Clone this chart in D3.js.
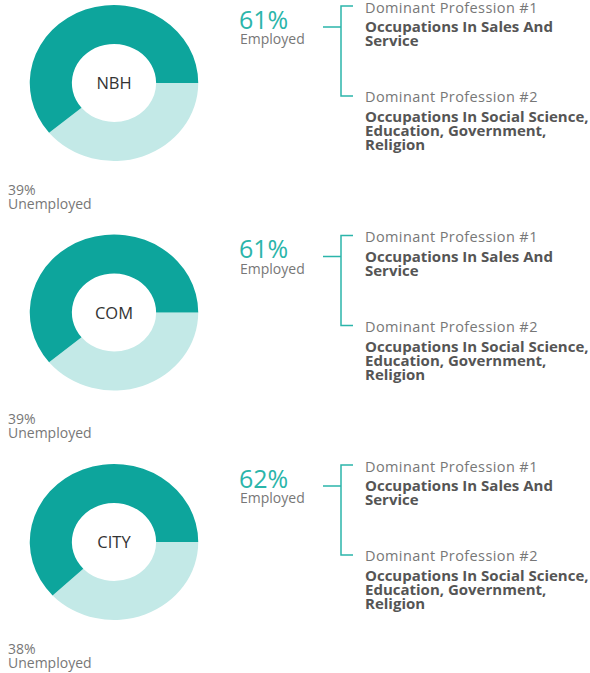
<!DOCTYPE html>
<html>
<head>
<meta charset="utf-8">
<script src="https://cdn.jsdelivr.net/npm/d3@7"></script>
<style>
  body { margin: 0; background: #fff; }
  svg { display: block; font-family: "Open Sans", sans-serif; }
</style>
</head>
<body>
<svg id="chart" width="590" height="673"></svg>
<script>
const areas = ["NBH", "COM", "CITY"];
const employed = [61, 61, 62];
const unemployed = [39, 39, 38];
const profession1 = [
  "Occupations In Sales And Service",
  "Occupations In Sales And Service",
  "Occupations In Sales And Service"
];
const profession2 = [
  "Occupations In Social Science, Education, Government, Religion",
  "Occupations In Social Science, Education, Government, Religion",
  "Occupations In Social Science, Education, Government, Religion"
];

const darkTeal = "#0da59c";
const lightTeal = "#c3e9e7";
const lineTeal = "#2bb5aa";

const svg = d3.select("#chart");
const panelH = 229.5;

const pie = d3
  .pie()
  .sort(null)
  .startAngle(Math.PI / 2)
  .endAngle(Math.PI / 2 + 2 * Math.PI);

const arc = d3.arc().innerRadius(39).outerRadius(78);

function wrap(textSel, words, maxWidth, lineH) {
  let line = [];
  let tspan = textSel.append("tspan").attr("x", textSel.attr("x")).attr("dy", 0);
  words.split(" ").forEach((w) => {
    line.push(w);
    tspan.text(line.join(" "));
    if (tspan.node().getComputedTextLength() > maxWidth && line.length > 1) {
      line.pop();
      tspan.text(line.join(" "));
      line = [w];
      tspan = textSel
        .append("tspan")
        .attr("x", textSel.attr("x"))
        .attr("dy", lineH)
        .text(w);
    }
  });
}

areas.forEach((name, i) => {
  const g = svg.append("g").attr("transform", `translate(0,${i * panelH})`);

  // donut (slightly wider than tall, like the reference)
  const donut = g.append("g").attr("transform", "translate(114,83) scale(1.08,1)");
  donut
    .selectAll("path")
    .data(pie([unemployed[i], employed[i]]))
    .enter()
    .append("path")
    .attr("d", arc)
    .attr("fill", (d, j) => (j === 0 ? lightTeal : darkTeal));

  g.append("text")
    .attr("x", 114)
    .attr("y", 89)
    .attr("text-anchor", "middle")
    .attr("font-size", "16.5px")
    .attr("fill", "#333")
    .text(name);

  // unemployed label
  g.append("text")
    .attr("x", 8)
    .attr("y", 194.5)
    .attr("font-size", "14px")
    .attr("fill", "#777")
    .text(unemployed[i] + "%");
  g.append("text")
    .attr("x", 8)
    .attr("y", 208.5)
    .attr("font-size", "14px")
    .attr("fill", "#777")
    .text("Unemployed");

  // employed label
  g.append("text")
    .attr("x", 239)
    .attr("y", 28.5)
    .attr("font-size", "25px")
    .attr("fill", lineTeal)
    .text(employed[i] + "%");
  g.append("text")
    .attr("x", 240)
    .attr("y", 44)
    .attr("font-size", "14px")
    .attr("fill", "#777")
    .text("Employed");

  // bracket
  g.append("path")
    .attr("d", "M323,27H341M353,6H341V96H353")
    .attr("fill", "none")
    .attr("stroke", lineTeal)
    .attr("stroke-width", 1.5);

  // professions
  g.append("text")
    .attr("x", 365)
    .attr("y", 12.5)
    .attr("font-size", "14.5px")
    .attr("letter-spacing", "0.4px")
    .attr("fill", "#777")
    .text("Dominant Profession #1");
  const p1 = g
    .append("text")
    .attr("x", 365)
    .attr("y", 32)
    .attr("font-size", "15px")
    .attr("font-weight", "bold")
    .attr("fill", "#555");
  wrap(p1, profession1[i], 226, 14.2);

  g.append("text")
    .attr("x", 365)
    .attr("y", 102)
    .attr("font-size", "14.5px")
    .attr("letter-spacing", "0.4px")
    .attr("fill", "#777")
    .text("Dominant Profession #2");
  const p2 = g
    .append("text")
    .attr("x", 365)
    .attr("y", 122)
    .attr("font-size", "15px")
    .attr("font-weight", "bold")
    .attr("fill", "#555");
  wrap(p2, profession2[i], 226, 14.2);
});
</script>
</body>
</html>
